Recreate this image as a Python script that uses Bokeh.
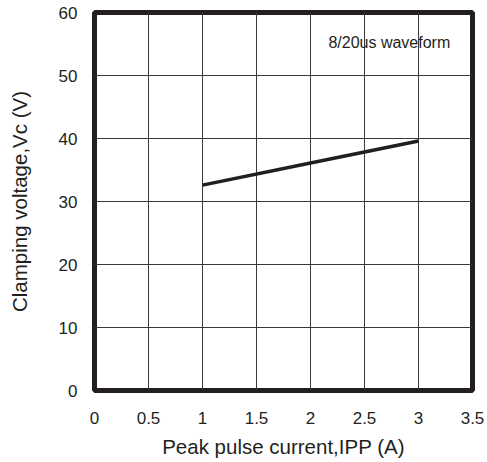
from bokeh.plotting import figure
from bokeh.models import FixedTicker, Label, Range1d
from bokeh.embed import file_html
from bokeh.resources import INLINE

# ---- data ----
x_ticks = [0, 0.5, 1, 1.5, 2, 2.5, 3, 3.5]
x_tick_labels = ["0", "0.5", "1", "1.5", "2", "2.5", "3", "3.5"]
y_ticks = [0, 10, 20, 30, 40, 50, 60]
y_tick_labels = ["0", "10", "20", "30", "40", "50", "60"]
ipp = [1.0, 2.0, 3.0]
vc = [32.6, 36.1, 39.6]
note_text = "8/20us waveform"
note_x = 2.73
note_y = 55.3
x_title = "Peak pulse current,IPP (A)"
y_title = "Clamping voltage,Vc (V)"

# ---- style ----
FONT = "Liberation Sans"
INK = "#231f20"

p = figure(width=487, height=462, output_backend="svg", toolbar_location=None,
           x_range=Range1d(0, 3.5), y_range=Range1d(0, 60),
           min_border_left=94, min_border_right=15, min_border_top=12, min_border_bottom=72)
p.background_fill_color = "white"
p.border_fill_color = "white"
p.outline_line_color = INK
p.outline_line_width = 5

p.xaxis.ticker = FixedTicker(ticks=x_ticks)
p.yaxis.ticker = FixedTicker(ticks=y_ticks)
p.xaxis.major_label_overrides = {t: l for t, l in zip(x_ticks, x_tick_labels)}
p.yaxis.major_label_overrides = {t: l for t, l in zip(y_ticks, y_tick_labels)}
for ax in (p.xaxis, p.yaxis):
    ax.axis_line_color = None
    ax.major_tick_line_color = None
    ax.minor_tick_line_color = None
    ax.major_tick_out = 0
    ax.major_tick_in = 0
    ax.minor_tick_out = 0
    ax.minor_tick_in = 0
    ax.major_label_text_font = FONT
    ax.major_label_text_font_size = "17px"
    ax.major_label_text_color = INK
    ax.axis_label_text_font = FONT
    ax.axis_label_text_font_size = "20.5px"
    ax.axis_label_text_font_style = "normal"
    ax.axis_label_text_color = INK
p.xaxis.major_label_standoff = 21
p.yaxis.major_label_standoff = 17
p.xaxis.axis_label = x_title
p.yaxis.axis_label = y_title
p.xaxis.axis_label_standoff = 8
p.yaxis.axis_label_standoff = 25

p.grid.grid_line_color = "#3a3a3a"
p.grid.grid_line_width = 1
p.xgrid.ticker = FixedTicker(ticks=x_ticks)
p.ygrid.ticker = FixedTicker(ticks=y_ticks)

p.line(ipp, vc, line_color=INK, line_width=3.5)

p.add_layout(Label(x=note_x, y=note_y, text=note_text, text_font=FONT,
                   text_font_size="16px", text_align="center", text_baseline="middle",
                   text_color=INK))

open("out.html", "w").write(file_html(p, INLINE))
